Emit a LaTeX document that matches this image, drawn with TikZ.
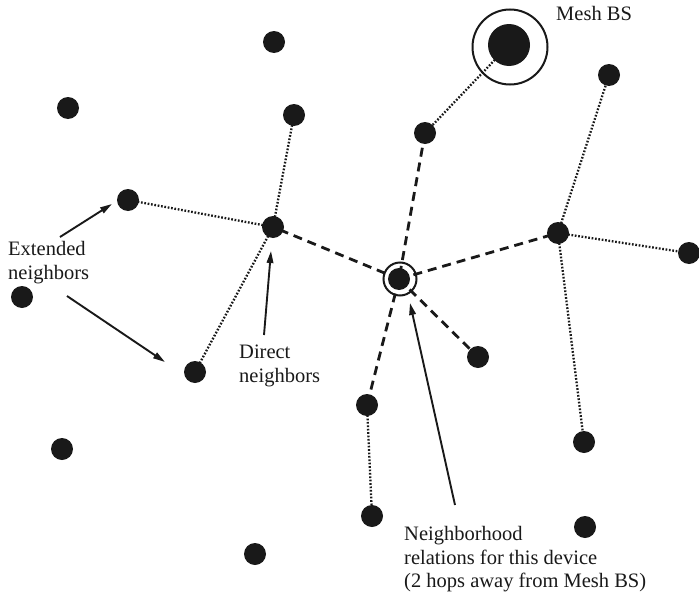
\documentclass[tikz,border=0pt]{standalone}
\usepackage{fontspec}
\setmainfont{Liberation Serif}
\usetikzlibrary{arrows.meta,backgrounds}
\begin{document}
\begin{tikzpicture}[x=1pt,y=-1pt,
  dev/.style={circle,fill=black!90,inner sep=0pt,minimum size=22pt},
  bsdisc/.style={circle,fill=black!90,inner sep=0pt,minimum size=42pt},
  ring/.style={circle,draw=black!90,line width=2pt,inner sep=0pt},
  dotlink/.style={line width=2.3pt,dash pattern=on 1.7pt off 1.7pt,black!90},
  dashlink/.style={line width=2.8pt,dash pattern=on 9pt off 6pt,black!90},
  callout/.style={line width=1.9pt,black!90,-{Triangle[length=12pt,width=6.5pt]}},
  lbl/.style={inner sep=0pt,align=left,font=\fontsize{20.5}{23.6}\selectfont,text=black!90}]
\useasboundingbox (0,0) rectangle (699,597);
% devices
\node[dev] (n1) at (274,42) {};
\node[dev] (n2) at (68,108) {};
\node[dev] (n3) at (294,115) {};
\node[bsdisc] (bs) at (509,45) {};
\node[ring,minimum size=75pt] (bsring) at (510,47) {};
\node[dev] (n5) at (425,133) {};
\node[dev] (n6) at (609,75) {};
\node[dev] (n7) at (128,200) {};
\node[dev] (n8) at (273,227) {};
\node[dev] (c) at (399,279) {};
\node[ring,minimum size=33pt] (cring) at (400,279) {};
\node[dev] (n9) at (558,233) {};
\node[dev] (n10) at (689,253) {};
\node[dev] (n11) at (22,297) {};
\node[dev] (n12) at (195,372) {};
\node[dev] (n13) at (478,357) {};
\node[dev] (n14) at (367,405) {};
\node[dev] (n15) at (584,442) {};
\node[dev] (n16) at (62,449) {};
\node[dev] (n17) at (372,516) {};
\node[dev] (n18) at (585,527) {};
\node[dev] (n19) at (255,554) {};
% links
\begin{scope}[on background layer]
\draw[dotlink] (bs.center) -- (n5.center);
\draw[dashlink] (n5.center) -- (c.center);
\draw[dashlink] (c.center) -- (n8.center);
\draw[dashlink] (c.center) -- (n9.center);
\draw[dashlink] (c.center) -- (n13.center);
\draw[dashlink] (c.center) -- (n14.center);
\draw[dotlink] (n8.center) -- (n3.center);
\draw[dotlink] (n8.center) -- (n7.center);
\draw[dotlink] (n8.center) -- (n12.center);
\draw[dotlink] (n9.center) -- (n6.center);
\draw[dotlink] (n9.center) -- (n10.center);
\draw[dotlink] (n9.center) -- (n15.center);
\draw[dotlink] (n14.center) -- (n17.center);
\end{scope}
% labels
\node[lbl,anchor=north west] (meshlbl) at (556,6) {Mesh BS};
\node[lbl,anchor=north west] (extlbl) at (8,241) {Extended\\neighbors};
\node[lbl,anchor=north west] (dirlbl) at (239,345) {Direct\\neighbors};
\node[lbl,anchor=north west] (nbrlbl) at (404,526) {Neighborhood\\relations for this device\\(2 hops away from Mesh BS)};
% callout arrows
\coordinate (e1s) at (60,237); \coordinate (e1t) at (112,204);
\coordinate (e2s) at (67,296); \coordinate (e2t) at (165,362);
\coordinate (ds) at (264,335); \coordinate (dt) at (271,251);
\coordinate (ns) at (455,505); \coordinate (nt) at (410,303);
\draw[callout] (e1s) -- (e1t);
\draw[callout] (e2s) -- (e2t);
\draw[callout] (ds) -- (dt);
\draw[callout] (ns) -- (nt);
\end{tikzpicture}
\end{document}
